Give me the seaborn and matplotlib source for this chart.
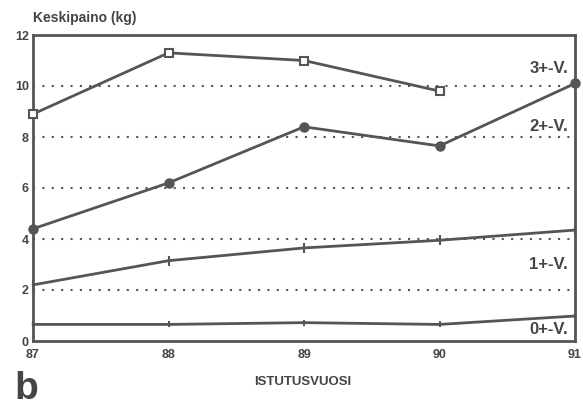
import matplotlib
matplotlib.use("Agg")
import matplotlib.pyplot as plt
import seaborn as sns
import pandas as pd
import numpy as np

years = [87, 88, 89, 90, 91]
v3 = [8.9, 11.3, 11.0, 9.8, np.nan]
v2 = [4.4, 6.2, 8.4, 7.65, 10.1]
v1 = [2.2, 3.15, 3.65, 3.95, 4.35]
v0 = [0.65, 0.65, 0.72, 0.65, 0.98]
series_labels = ["3+-V.", "2+-V.", "1+-V.", "0+-V."]
yticks = [0, 2, 4, 6, 8, 10, 12]

sns.set_theme(style="white")
plt.rcParams['font.family'] = ['Liberation Sans', 'DejaVu Sans']

df = pd.DataFrame({
    "year": years * 4,
    "val": v3 + v2 + v1 + v0,
    "ser": sum([[s] * 5 for s in series_labels], []),
})

fig = plt.figure(figsize=(5.83, 4.08), dpi=100)
ax = fig.add_axes([33/583, 1-341/408, (575-33)/583, (341-35)/408])

col = "#555555"
tcol = "#444444"
markers = {"3+-V.": "s", "2+-V.": "o", "1+-V.": "|", "0+-V.": "|"}
sizes = {"3+-V.": 6, "2+-V.": 6, "1+-V.": 7, "0+-V.": 5}
fills = {"3+-V.": "white", "2+-V.": col, "1+-V.": col, "0+-V.": col}
for s in series_labels:
    d = df[df.ser == s].dropna()
    sns.lineplot(data=d, x="year", y="val", ax=ax, color=col, lw=2.0,
                 marker=markers[s], markersize=sizes[s], markerfacecolor=fills[s],
                 markeredgecolor=col, markeredgewidth=1.5, legend=False,
                 clip_on=False, zorder=3)

for yv in [2, 4, 6, 8, 10]:
    ax.axhline(yv, color=col, lw=1.5, ls=(0, (1, 3.5)), zorder=0)

ax.set_xlim(87, 91)
ax.set_ylim(0, 12)
ax.set_xticks(years)
ax.set_xticklabels([str(y) for y in years], fontsize=9, fontweight="bold", color=tcol)
ax.set_yticks(yticks)
ax.set_yticklabels([str(y) for y in yticks], fontsize=9, fontweight="bold", color=tcol)
ax.tick_params(axis="x", length=0, pad=6)
ax.tick_params(axis="y", length=0, pad=3)
for sp in ax.spines.values():
    sp.set_color(col)
    sp.set_linewidth(2)
ax.set_xlabel("")
ax.set_ylabel("")

lab_y = {"3+-V.": 10.7, "2+-V.": 8.4, "1+-V.": 3.0, "0+-V.": 0.45}
for s in series_labels:
    ax.text(90.95, lab_y[s], s, ha="right", va="center", fontsize=12,
            fontweight="bold", color=tcol)

fig.text(33/583, 1-18/408, "Keskipaino (kg)", fontsize=10, fontweight="bold",
         color=tcol, va="center", ha="left")
fig.text(303/583, 1-382/408, "ISTUTUSVUOSI", fontsize=9.5, fontweight="bold",
         color=tcol, va="center", ha="center")
fig.text(14/583, 1-389/408, "b", fontsize=28, fontweight="bold",
         color=tcol, va="center", ha="left")

fig.savefig("out.png", dpi=100)
